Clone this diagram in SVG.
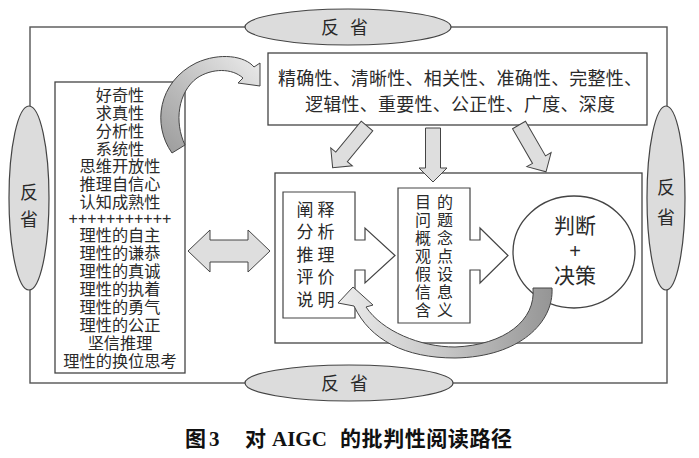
<svg xmlns="http://www.w3.org/2000/svg" width="699" height="458" viewBox="0 0 699 458">
<defs>
<style>
.t{font-family:"Noto Sans CJK SC","Liberation Sans",sans-serif;fill:#2a2a2a;}
.box{fill:#fff;stroke:#444;stroke-width:1.3;}
.ell{fill:#dcdcdc;stroke:#444;stroke-width:1.2;}
.frame{fill:none;stroke:#555;stroke-width:1.4;}
.blk{fill:#dedede;stroke:#444;stroke-width:1;}
.open{fill:#fff;stroke:#444;stroke-width:1.2;}
.cap{font-family:"Liberation Serif","Noto Sans CJK SC",serif;font-weight:bold;fill:#111;font-size:21px;}
</style>
<linearGradient id="g1" x1="0" y1="1" x2="1" y2="0">
<stop offset="0" stop-color="#9a9a9a"/>
<stop offset="0.45" stop-color="#bdbdbd"/>
<stop offset="1" stop-color="#ececec"/>
</linearGradient>
<linearGradient id="g2" x1="1" y1="0" x2="0" y2="0">
<stop offset="0" stop-color="#959595"/>
<stop offset="0.5" stop-color="#c6c6c6"/>
<stop offset="1" stop-color="#ececec"/>
</linearGradient>
<polygon id="dnarrow" points="-7.5,0 7.5,0 7.5,40 14,40 0,54 -14,40 -7.5,40"/>
</defs>
<rect width="699" height="458" fill="#fff"/>

<g id="connectors">
<rect class="frame" x="30" y="27" width="637" height="356"/>
</g>

<g id="reflect-top">
<ellipse class="ell" cx="348" cy="27" rx="103" ry="18"/>
<text class="t" font-size="18" x="330" y="34" text-anchor="middle">反</text>
<text class="t" font-size="18" x="359" y="34" text-anchor="middle">省</text>
</g>
<g id="reflect-bottom">
<ellipse class="ell" cx="349" cy="383" rx="104" ry="18"/>
<text class="t" font-size="18" x="330" y="390" text-anchor="middle">反</text>
<text class="t" font-size="18" x="359" y="390" text-anchor="middle">省</text>
</g>
<g id="reflect-left">
<ellipse class="ell" cx="29" cy="198" rx="20" ry="92"/>
<text class="t" font-size="18" x="29" y="199" text-anchor="middle">反</text>
<text class="t" font-size="18" x="29" y="226" text-anchor="middle">省</text>
</g>
<g id="reflect-right">
<ellipse class="ell" cx="666" cy="198" rx="19" ry="92"/>
<text class="t" font-size="18" x="666" y="194" text-anchor="middle">反</text>
<text class="t" font-size="18" x="666" y="224" text-anchor="middle">省</text>
</g>

<g id="traits">
<rect class="box" x="55" y="82" width="130" height="291"/>
<g class="t" font-size="16.2" text-anchor="middle">
<text x="120" y="101">好奇性</text>
<text x="120" y="119">求真性</text>
<text x="120" y="137">分析性</text>
<text x="120" y="155">系统性</text>
<text x="120" y="172">思维开放性</text>
<text x="120" y="190">推理自信心</text>
<text x="120" y="208">认知成熟性</text>
<text x="120" y="224" style="font-family:'Liberation Sans',sans-serif" font-size="16">+++++++++++</text>
<text x="120" y="241">理性的自主</text>
<text x="120" y="259">理性的谦恭</text>
<text x="120" y="277">理性的真诚</text>
<text x="120" y="295">理性的执着</text>
<text x="120" y="313">理性的勇气</text>
<text x="120" y="331">理性的公正</text>
<text x="120" y="349">坚信推理</text>
<text x="120" y="367">理性的换位思考</text>
</g>
</g>

<g id="standards">
<rect class="box" x="268" y="53" width="379" height="72"/>
<text class="t" font-size="18" x="278" y="85" textLength="364">精确性、清晰性、相关性、准确性、完整性、</text>
<text class="t" font-size="18" x="305" y="111" textLength="310">逻辑性、重要性、公正性、广度、深度</text>
</g>

<g id="process">
<rect class="box" x="275" y="173" width="367" height="170"/>
</g>

<g id="skills">
<path class="open" d="M283,192 H355 V240 H365 V228 L395,255.5 L365,283 V270 H355 V318 H283 Z"/>
<g class="t" font-size="17" text-anchor="middle">
<text x="305" y="216">阐</text><text x="326" y="216">释</text>
<text x="305" y="238">分</text><text x="326" y="238">析</text>
<text x="305" y="261">推</text><text x="326" y="261">理</text>
<text x="305" y="283">评</text><text x="326" y="283">价</text>
<text x="305" y="306">说</text><text x="326" y="306">明</text>
</g>
</g>

<g id="elements">
<path class="open" d="M398,188 H470 V240 H480 V228 L508,255.5 L480,283 V270 H470 V323 H398 Z"/>
<g class="t" font-size="16" text-anchor="middle">
<text x="423" y="208">目</text><text x="445" y="208">的</text>
<text x="423" y="226">问</text><text x="445" y="226">题</text>
<text x="423" y="244">概</text><text x="445" y="244">念</text>
<text x="423" y="262">观</text><text x="445" y="262">点</text>
<text x="423" y="280">假</text><text x="445" y="280">设</text>
<text x="423" y="298">信</text><text x="445" y="298">息</text>
<text x="423" y="316">含</text><text x="445" y="316">义</text>
</g>
</g>

<g id="judgement">
<ellipse class="box" cx="574" cy="252" rx="61" ry="56"/>
<g class="t" font-size="21" text-anchor="middle">
<text x="575" y="233">判断</text>
<text x="575" y="258" style="font-family:'Liberation Sans',sans-serif" font-size="20">+</text>
<text x="575" y="283">决策</text>
</g>
</g>

<g id="arrows">
<use href="#dnarrow" class="blk" transform="translate(367,126) rotate(39.5)"/>
<use href="#dnarrow" class="blk" transform="translate(433,128)"/>
<use href="#dnarrow" class="blk" transform="translate(519,125) rotate(-30)"/>
<polygon class="blk" points="188,251 210,230 210,240 248,240 248,230 270,251 248,272 248,262 210,262 210,272"/>
<path fill="url(#g1)" stroke="#444" stroke-width="1" d="M172,153 C152,125 158,82 196,63 C220,52 245,56 254,67 L260,63 L260,86 L238,83 L243,78 C232,68 212,68 197,78 C178,92 174,122 185,145 Z"/>
<path fill="url(#g2)" stroke="#444" stroke-width="1" d="M533,288 L552,288 C554,322 520,357 455,358 C405,358 370,340 354,306 L338,303 L353,287 L373,305 L366,307 C382,331 420,347 455,347 C505,345 536,320 533,288 Z"/>
</g>

<g id="caption">
<text class="cap" x="185" y="446">图</text>
<text class="cap" x="209" y="446">3</text>
<text class="cap" x="245" y="446">对</text>
<text class="cap" x="272" y="446" font-size="22">AIGC</text>
<text class="cap" x="340" y="446" textLength="172">的批判性阅读路径</text>
</g>
</svg>
